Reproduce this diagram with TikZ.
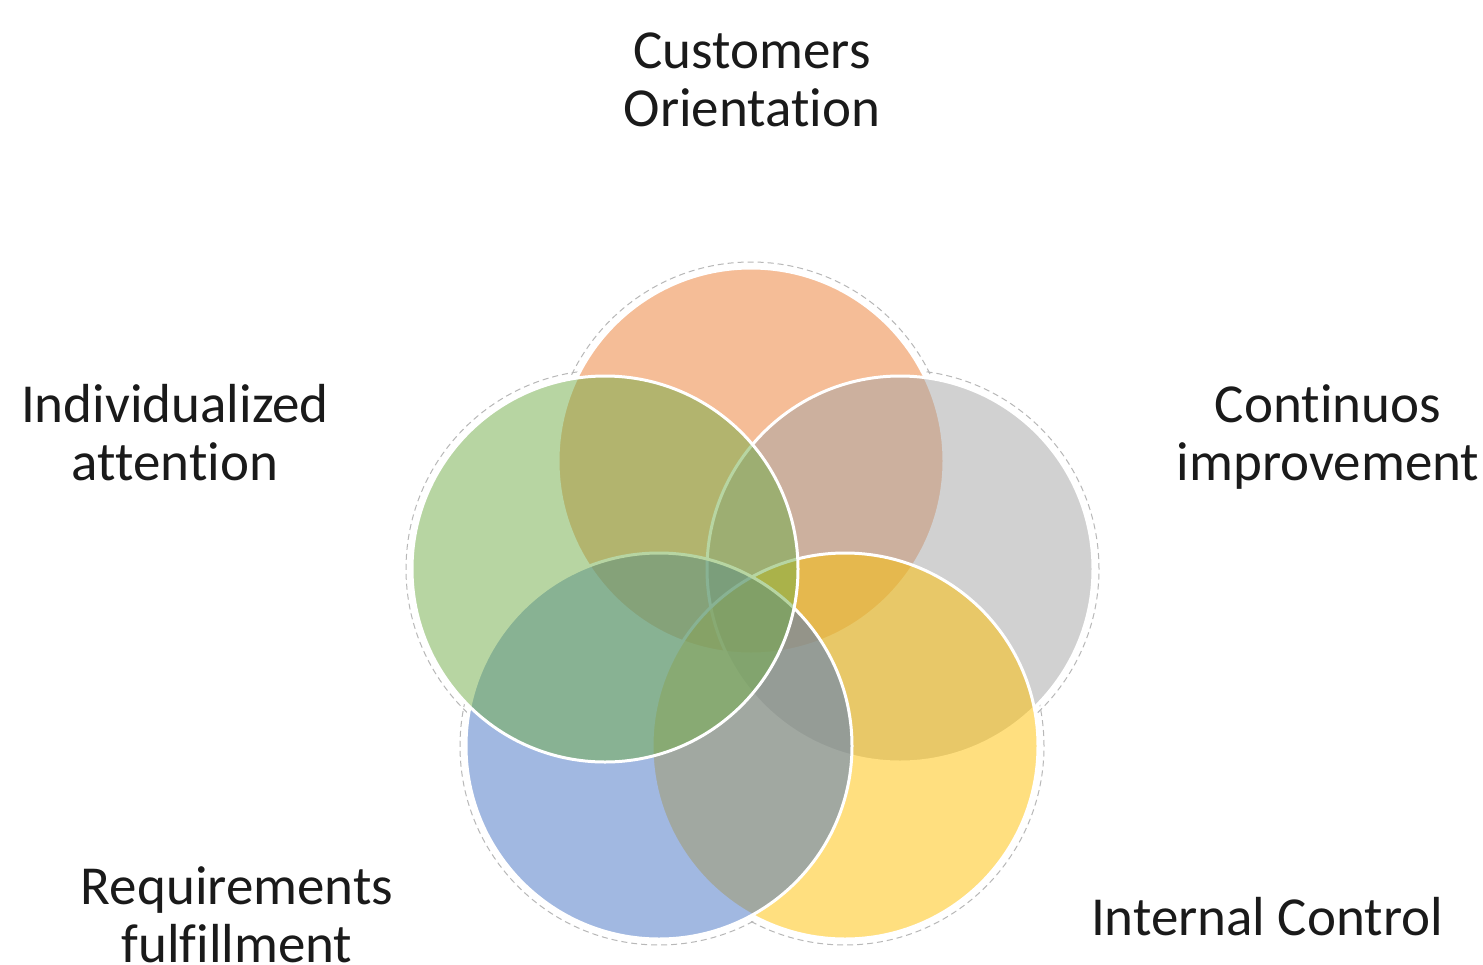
\documentclass[tikz,border=0pt]{standalone}
\usepackage{fontspec}
\setmainfont[Ligatures=NoCommon]{Carlito}
\definecolor{cOrange}{HTML}{ED7D31}
\definecolor{cGray}{HTML}{A5A5A5}
\definecolor{cYellow}{HTML}{FFC000}
\definecolor{cBlue}{HTML}{4472C4}
\definecolor{cGreen}{HTML}{70AD47}
\definecolor{cText}{HTML}{1A1A1A}
\begin{document}
\begin{tikzpicture}[x=0.5pt,y=-0.5pt,
  disc/.style={circle, inner sep=0pt, minimum size=193pt, fill=#1, fill opacity=0.5, draw=white, draw opacity=1, line width=1.5pt},
  halo/.style={circle, inner sep=0pt, minimum size=199pt, draw=black!28, line width=0.5pt, dash pattern=on 3pt off 2pt},
  cover/.style={circle, inner sep=0pt, minimum size=195pt, fill=white},
  lbl/.style={font=\fontsize{27.5}{29}\selectfont, text=cText, align=center, inner sep=0pt, anchor=base}]
\useasboundingbox (0,0) rectangle (1483,964);
\fill[white] (0,0) rectangle (1483,964);
% halos
\foreach \n/\p in {hO/{(751,461)}, hG/{(900,569)}, hY/{(845,746)}, hB/{(659,746)}, hL/{(605,569)}}
  \node[halo] (\n) at \p {};
\foreach \n/\p in {wO/{(751,461)}, wG/{(900,569)}, wY/{(845,746)}, wB/{(659,746)}, wL/{(605,569)}}
  \node[cover] (\n) at \p {};
% discs
\node[disc=cOrange] (orange) at (751,461) {};
\node[disc=cGray]   (gray)   at (900,569) {};
\node[disc=cYellow] (yellow) at (845,746) {};
\node[disc=cBlue]   (blue)   at (659,746) {};
\node[disc=cGreen]  (green)  at (605,569) {};
% labels (base anchor = baseline of last line)
\node[lbl] (tCust) at (752,126) {Customers\\Orientation};
\node[lbl] (tInd) at (175,480) {Individualized\\attention};
\node[lbl] (tCont) at (1328,480) {Continuos\\improvement};
\node[lbl] (tReq) at (237,962) {Requirements\\fulfillment};
\node[lbl] (tInt) at (1267,935) {Internal Control};
\end{tikzpicture}
\end{document}
